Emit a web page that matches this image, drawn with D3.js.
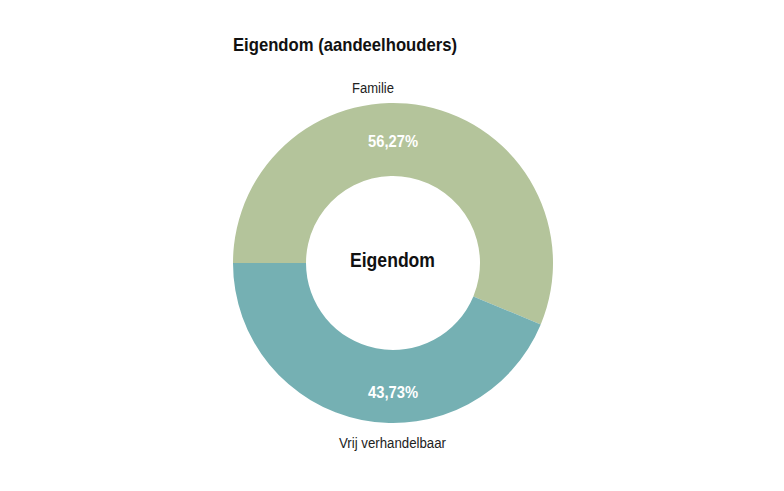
<!DOCTYPE html>
<html>
<head>
<meta charset="utf-8">
<script src="https://cdn.jsdelivr.net/npm/d3@7"></script>
<style>
  body { margin: 0; background: #fff; }
  text { font-family: "Liberation Sans", Arial, sans-serif; }
</style>
</head>
<body>
<script>
const categories = ["Familie", "Vrij verhandelbaar"];
const shares = [56.27, 43.73];
const colors = ["#b4c49b", "#75b0b3"];
const title = "Eigendom (aandeelhouders)";
const centerLabel = "Eigendom";

const width = 784, height = 491;
const cx = 393, cy = 263;
const outerR = 160, innerR = 87;

const svg = d3.select("body")
  .append("svg")
  .attr("width", width)
  .attr("height", height);

// the reference uses a condensed face, so squeeze text to its measured width
svg.append("text")
  .attr("x", 233)
  .attr("y", 51)
  .attr("textLength", 224)
  .attr("lengthAdjust", "spacingAndGlyphs")
  .style("font-size", "18.5px")
  .style("font-weight", "bold")
  .attr("fill", "#111")
  .text(title);

const pie = d3.pie()
  .sort(null)
  .startAngle(-Math.PI / 2)
  .endAngle(Math.PI * 1.5);

const arc = d3.arc()
  .innerRadius(innerR)
  .outerRadius(outerR);

const g = svg.append("g")
  .attr("transform", `translate(${cx},${cy})`);

const arcs = pie(shares);

g.selectAll("path")
  .data(arcs)
  .enter()
  .append("path")
  .attr("d", arc)
  .attr("fill", (d, i) => colors[i]);

// percentage labels sit in the ring, top for first slice, bottom for second
const midR = (innerR + outerR) / 2;
g.selectAll(".pct")
  .data(arcs)
  .enter()
  .append("text")
  .attr("class", "pct")
  .attr("x", -25)
  .attr("y", (d, i) => i == 0 ? -midR + 7.5 : midR + 11.5)
  .attr("textLength", 50)
  .attr("lengthAdjust", "spacingAndGlyphs")
  .attr("fill", "#fff")
  .style("font-size", "16.5px")
  .style("font-weight", "bold")
  .text(d => d3.format(".2f")(d.data).replace(".", ",") + "%");

// category labels outside the ring
const catX = [-41, -54];
const catW = [42, 107];
g.selectAll(".cat")
  .data(categories)
  .enter()
  .append("text")
  .attr("class", "cat")
  .attr("x", (d, i) => catX[i])
  .attr("y", (d, i) => i == 0 ? -outerR - 10 : outerR + 25)
  .attr("textLength", (d, i) => catW[i])
  .attr("lengthAdjust", "spacingAndGlyphs")
  .attr("fill", "#222")
  .style("font-size", "14px")
  .text(d => d);

g.append("text")
  .attr("x", -43)
  .attr("y", 4)
  .attr("textLength", 85)
  .attr("lengthAdjust", "spacingAndGlyphs")
  .attr("fill", "#111")
  .style("font-size", "20px")
  .style("font-weight", "bold")
  .text(centerLabel);
</script>
</body>
</html>
